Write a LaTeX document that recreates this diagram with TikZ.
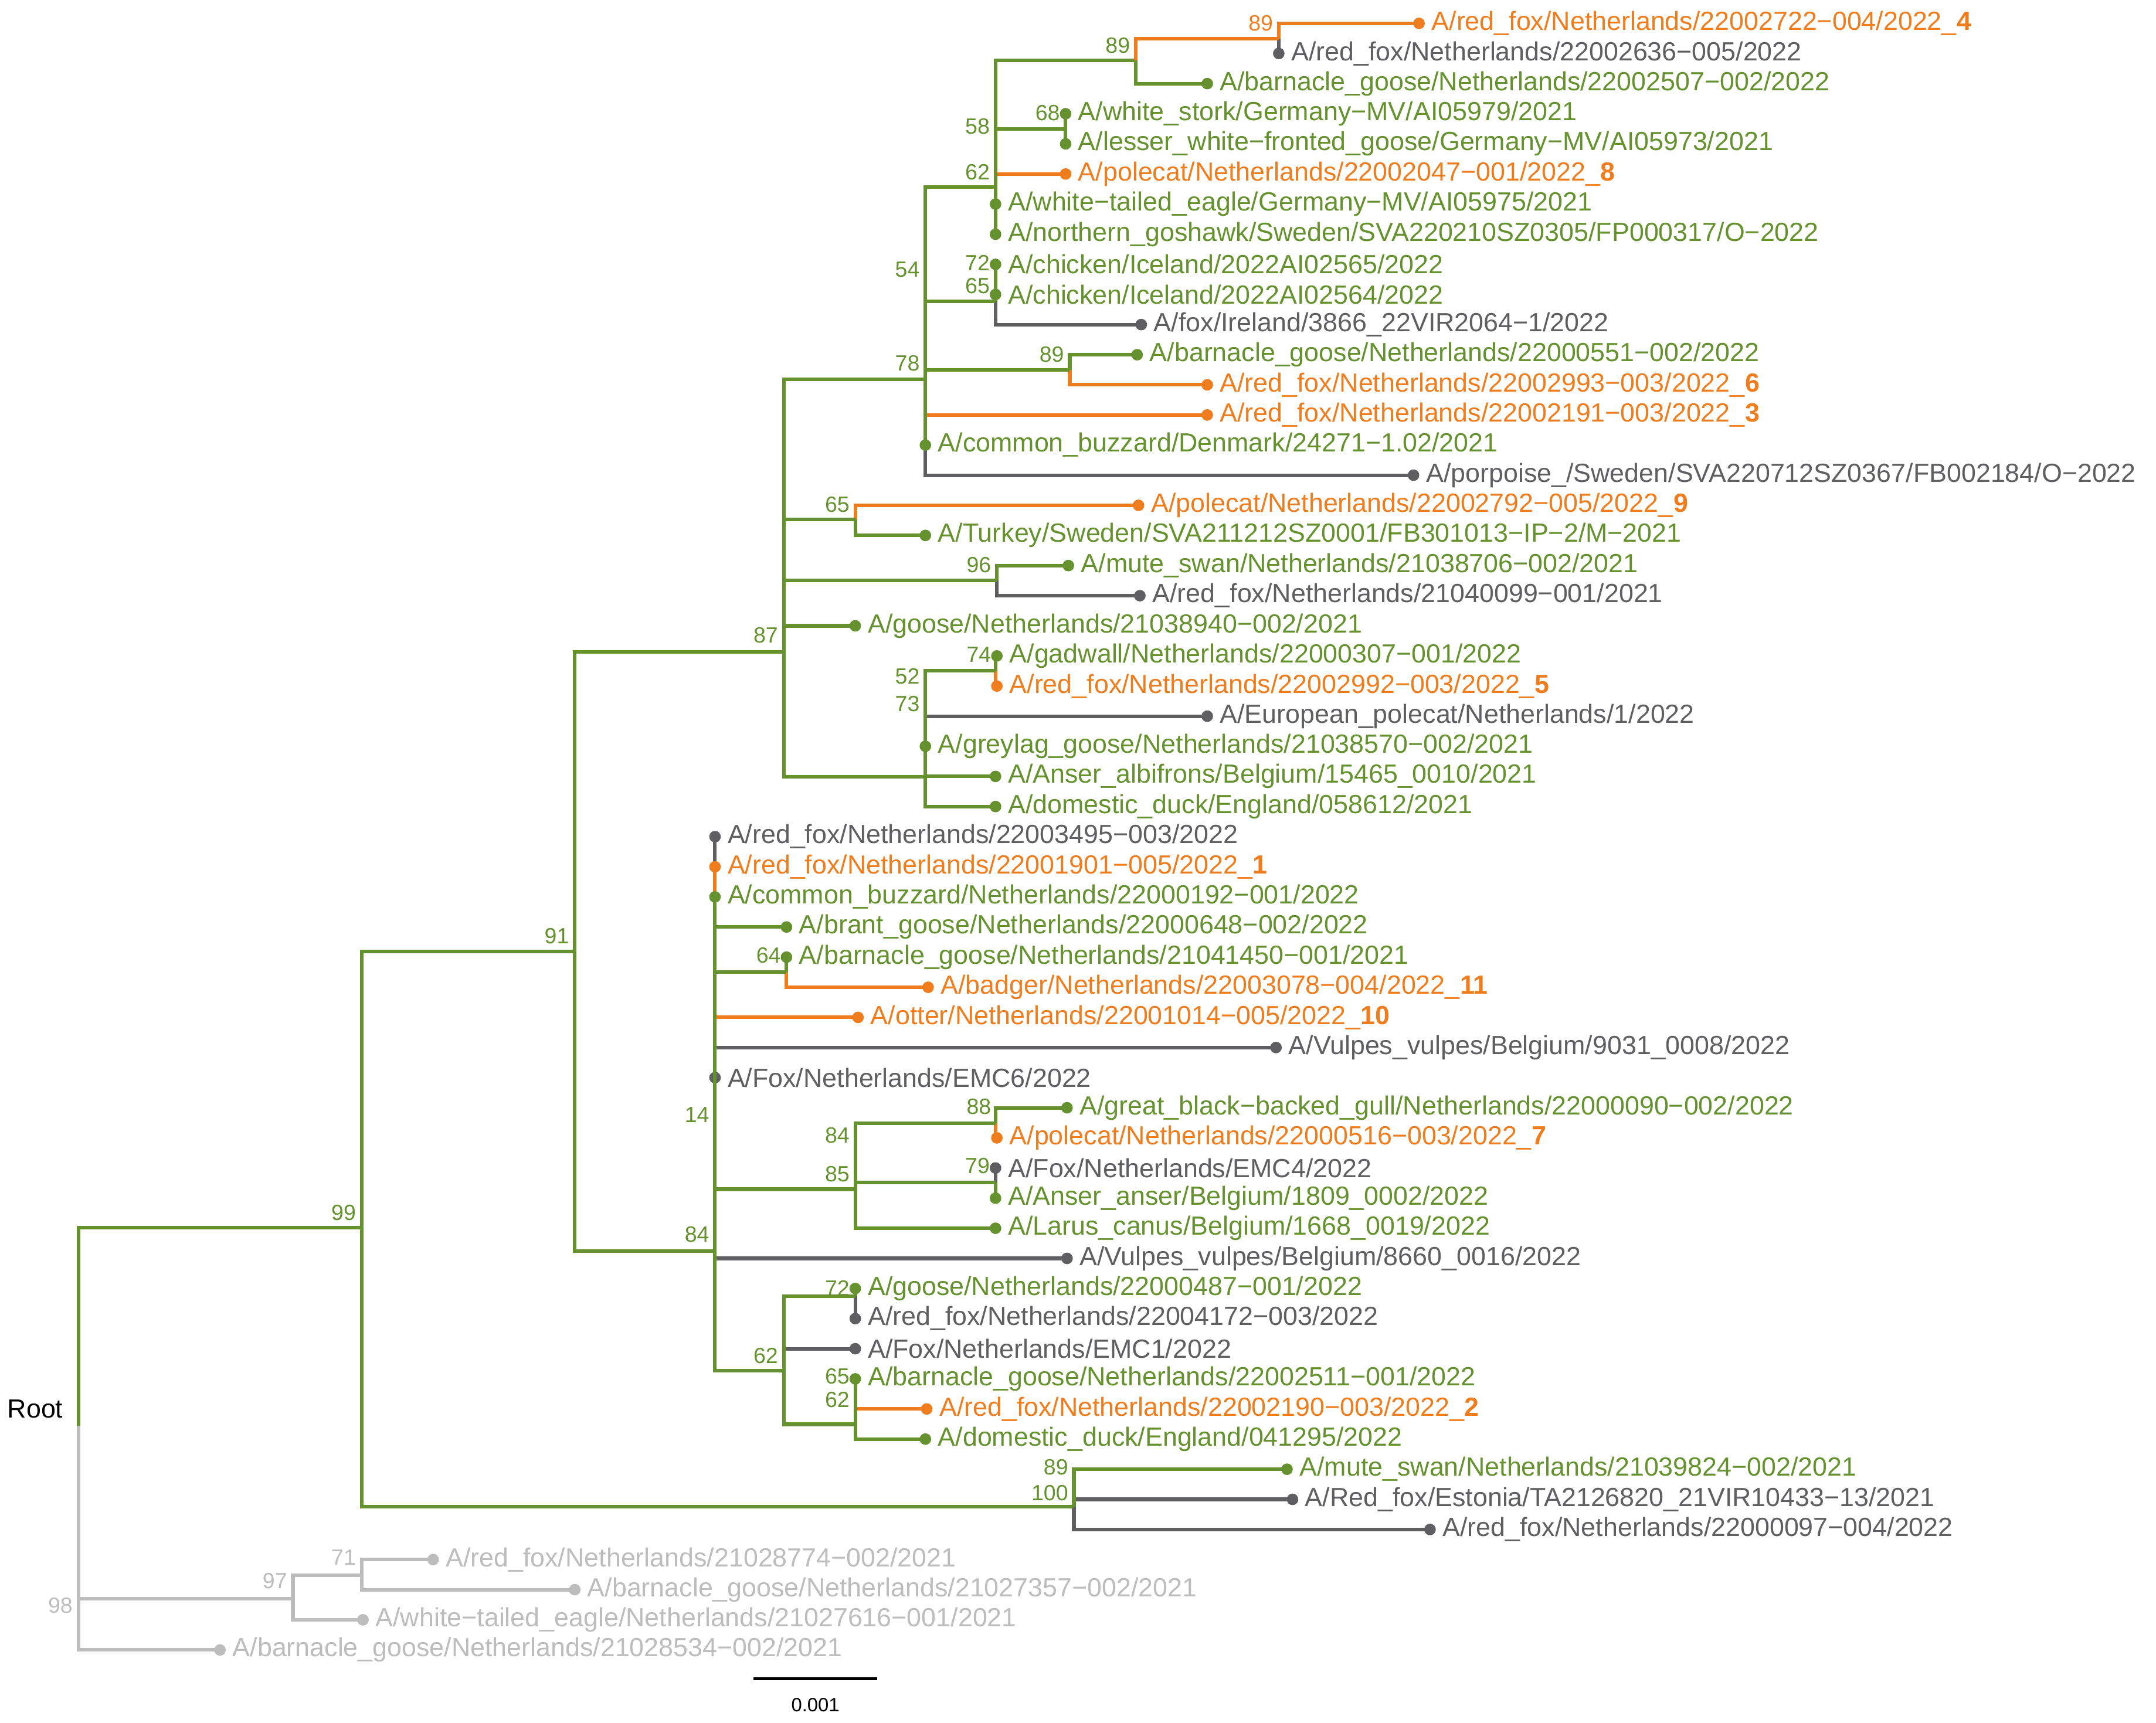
\documentclass[tikz,border=0pt]{standalone}
\usepackage{fontspec}
\setmainfont{Liberation Sans}
\definecolor{gn}{HTML}{65922E}
\definecolor{og}{HTML}{EF7D1E}
\definecolor{gy}{HTML}{5F5F62}
\definecolor{lg}{HTML}{BDBDBD}
\tikzset{br/.style={line width=2.6pt},
 tl/.style={font=\fontsize{19.1}{21}\selectfont,inner sep=0pt},
 bl/.style={font=\fontsize{16}{18}\selectfont,inner sep=0pt,anchor=east}}
\newcommand\tipp[6]{%
 \pgfmathsetmacro\ty{17+21.91*(#4-1)}%
 \draw[br,#1] (#2,#3) |- (#5,\ty);
 \fill[#1] (#5,\ty) circle (4.2pt);
 \node[tl,text=#1,anchor=west] (t#4) at (#5+9,\ty) {#6};}
\newcommand\ib[5]{\draw[br,#1] (#2,#3) |- (#4,#5);}
\newcommand\bs[4]{\node[bl,text=#1] at (#2-4,#3) {#4};}
\begin{document}
\begin{tikzpicture}[x=1pt,y=-1pt]
\useasboundingbox[fill=white] (0,0) rectangle (1568,1253);
% ---------- non-green tips first (farthest from join first)
\tipp{og}{930}{28}{1}{1032}{A/red\_fox/Netherlands/22002722−004/2022\_\textbf{4}}
\tipp{gy}{930}{28}{2}{930}{A/red\_fox/Netherlands/22002636−005/2022}
\tipp{og}{724}{136}{6}{775}{A/polecat/Netherlands/22002047−001/2022\_\textbf{8}}
\tipp{gy}{724}{219}{11}{830}{A/fox/Ireland/3866\_22VIR2064−1/2022}
\tipp{gy}{673}{276}{16}{1028}{A/porpoise\_/Sweden/SVA220712SZ0367/FB002184/O−2022}
\tipp{og}{673}{276}{14}{878}{A/red\_fox/Netherlands/22002191−003/2022\_\textbf{3}}
\tipp{og}{778}{269}{13}{878}{A/red\_fox/Netherlands/22002993−003/2022\_\textbf{6}}
\tipp{og}{622}{378}{17}{828}{A/polecat/Netherlands/22002792−005/2022\_\textbf{9}}
\tipp{gy}{725}{422}{20}{829}{A/red\_fox/Netherlands/21040099−001/2021}
\tipp{og}{724}{488}{23}{725}{A/red\_fox/Netherlands/22002992−003/2022\_\textbf{5}}
\tipp{gy}{673}{565}{24}{878}{A/European\_polecat/Netherlands/1/2022}
\tipp{gy}{520}{910}{28}{520}{A/red\_fox/Netherlands/22003495−003/2022}
\tipp{og}{520}{910}{29}{520}{A/red\_fox/Netherlands/22001901−005/2022\_\textbf{1}}
\tipp{og}{520}{910}{34}{624}{A/otter/Netherlands/22001014−005/2022\_\textbf{10}}
\tipp{gy}{520}{910}{35}{928}{A/Vulpes\_vulpes/Belgium/9031\_0008/2022}
\tipp{gy}{520}{910}{36}{520}{A/Fox/Netherlands/EMC6/2022}
\tipp{gy}{520}{910}{42}{776}{A/Vulpes\_vulpes/Belgium/8660\_0016/2022}
\tipp{og}{572}{707}{33}{675}{A/badger/Netherlands/22003078−004/2022\_\textbf{11}}
\tipp{og}{724}{817}{38}{725}{A/polecat/Netherlands/22000516−003/2022\_\textbf{7}}
\tipp{gy}{724}{860}{39}{724}{A/Fox/Netherlands/EMC4/2022}
\tipp{gy}{622}{943}{44}{622}{A/red\_fox/Netherlands/22004172−003/2022}
\tipp{gy}{570}{997}{45}{622}{A/Fox/Netherlands/EMC1/2022}
\tipp{og}{622}{1036}{47}{674}{A/red\_fox/Netherlands/22002190−003/2022\_\textbf{2}}
\tipp{gy}{781}{1091}{50}{940}{A/Red\_fox/Estonia/TA2126820\_21VIR10433−13/2021}
\tipp{gy}{781}{1096}{51}{1040}{A/red\_fox/Netherlands/22000097−004/2022}
% ---------- root and light clade
\node[tl,anchor=east] (root) at (46,1025) {Root};
\ib{lg}{57}{1037}{213}{1163}
\tipp{lg}{57}{1037}{55}{160}{A/barnacle\_goose/Netherlands/21028534−002/2021}
\ib{lg}{213}{1163}{263}{1146}
\tipp{lg}{263}{1146}{52}{315}{A/red\_fox/Netherlands/21028774−002/2021}
\tipp{lg}{263}{1146}{53}{418}{A/barnacle\_goose/Netherlands/21027357−002/2021}
\tipp{lg}{213}{1163}{54}{264}{A/white−tailed\_eagle/Netherlands/21027616−001/2021}
% ---------- green
\ib{gn}{57}{1037}{263}{893}
\ib{gn}{263}{893}{418}{692}
\ib{gn}{263}{893}{781}{1096}
\ib{gn}{781}{1096}{781}{1069}
\tipp{gn}{781}{1069}{49}{936}{A/mute\_swan/Netherlands/21039824−002/2021}
\ib{gn}{418}{692}{570}{474}
\ib{gn}{418}{692}{520}{910}
\ib{gn}{570}{474}{673}{276}
\ib{gn}{570}{474}{622}{378}
\ib{gn}{570}{474}{725}{422}
\tipp{gn}{570}{474}{21}{622}{A/goose/Netherlands/21038940−002/2021}
\ib{gn}{570}{474}{673}{565}
\ib{gn}{673}{276}{673}{178}
\ib{gn}{673}{178}{724}{136}
\ib{gn}{673}{178}{724}{219}
\ib{gn}{673}{276}{778}{269}
\tipp{gn}{673}{276}{15}{673}{A/common\_buzzard/Denmark/24271−1.02/2021}
\ib{gn}{724}{136}{826}{44}
\ib{gn}{724}{136}{775}{94}
\tipp{gn}{724}{136}{7}{724}{A/white−tailed\_eagle/Germany−MV/AI05975/2021}
\tipp{gn}{724}{136}{8}{724}{A/northern\_goshawk/Sweden/SVA220210SZ0305/FP000317/O−2022}
\ib{og}{826}{44}{930}{28}
\tipp{gn}{826}{44}{3}{878}{A/barnacle\_goose/Netherlands/22002507−002/2022}
\tipp{gn}{775}{94}{4}{775}{A/white\_stork/Germany−MV/AI05979/2021}
\tipp{gn}{775}{94}{5}{775}{A/lesser\_white−fronted\_goose/Germany−MV/AI05973/2021}
\tipp{gn}{724}{219}{9}{724}{A/chicken/Iceland/2022AI02565/2022}
\tipp{gn}{724}{219}{10}{724}{A/chicken/Iceland/2022AI02564/2022}
\tipp{gn}{778}{269}{12}{827}{A/barnacle\_goose/Netherlands/22000551−002/2022}
\tipp{gn}{622}{378}{18}{673}{A/Turkey/Sweden/SVA211212SZ0001/FB301013−IP−2/M−2021}
\tipp{gn}{725}{422}{19}{777}{A/mute\_swan/Netherlands/21038706−002/2021}
\ib{gn}{673}{565}{724}{488}
\tipp{gn}{724}{488}{22}{725}{A/gadwall/Netherlands/22000307−001/2022}
\tipp{gn}{673}{565}{25}{673}{A/greylag\_goose/Netherlands/21038570−002/2021}
\tipp{gn}{673}{565}{26}{724}{A/Anser\_albifrons/Belgium/15465\_0010/2021}
\tipp{gn}{673}{565}{27}{724}{A/domestic\_duck/England/058612/2021}
\tipp{gn}{520}{910}{30}{520}{A/common\_buzzard/Netherlands/22000192−001/2022}
\tipp{gn}{520}{910}{31}{572}{A/brant\_goose/Netherlands/22000648−002/2022}
\ib{gn}{520}{910}{572}{707}
\tipp{gn}{572}{707}{32}{572}{A/barnacle\_goose/Netherlands/21041450−001/2021}
\ib{gn}{520}{910}{622}{865}
\ib{gn}{520}{910}{570}{997}
\ib{gn}{622}{865}{724}{817}
\ib{gn}{622}{865}{724}{860}
\tipp{gn}{724}{817}{37}{776}{A/great\_black−backed\_gull/Netherlands/22000090−002/2022}
\tipp{gn}{724}{860}{40}{724}{A/Anser\_anser/Belgium/1809\_0002/2022}
\tipp{gn}{622}{865}{41}{724}{A/Larus\_canus/Belgium/1668\_0019/2022}
\ib{gn}{570}{997}{622}{943}
\tipp{gn}{622}{943}{43}{622}{A/goose/Netherlands/22000487−001/2022}
\ib{gn}{570}{997}{622}{1036}
\tipp{gn}{622}{1036}{46}{622}{A/barnacle\_goose/Netherlands/22002511−001/2022}
\tipp{gn}{622}{1036}{48}{673}{A/domestic\_duck/England/041295/2022}
% bootstrap
\bs{og}{930}{17}{89}
\bs{gn}{826}{33}{89}
\bs{gn}{775}{82}{68}
\bs{gn}{724}{92}{58}
\bs{gn}{724}{125}{62}
\bs{gn}{724}{191}{72}
\bs{gn}{724}{208}{65}
\bs{gn}{673}{196}{54}
\bs{gn}{778}{258}{89}
\bs{gn}{673}{264}{78}
\bs{gn}{622}{367}{65}
\bs{gn}{725}{411}{96}
\bs{gn}{570}{462}{87}
\bs{gn}{725}{476}{74}
\bs{gn}{673}{492}{52}
\bs{gn}{673}{512}{73}
\bs{gn}{418}{681}{91}
\bs{gn}{572}{695}{64}
\bs{gn}{520}{811}{14}
\bs{gn}{725}{805}{88}
\bs{gn}{622}{826}{84}
\bs{gn}{724}{848}{79}
\bs{gn}{622}{854}{85}
\bs{gn}{520}{898}{84}
\bs{gn}{263}{882}{99}
\bs{gn}{622}{937}{72}
\bs{gn}{570}{986}{62}
\bs{gn}{622}{1001}{65}
\bs{gn}{622}{1018}{62}
\bs{gn}{781}{1067}{89}
\bs{gn}{781}{1086}{100}
\bs{lg}{263}{1133}{71}
\bs{lg}{213}{1150}{97}
\bs{lg}{57}{1168}{98}
% scale bar
\coordinate (s1) at (548,1221); \coordinate (s2) at (638,1221);
\draw[line width=2.2pt,black] (s1) -- (s2);
\node[font=\fontsize{14}{16}\selectfont,inner sep=0pt] (sl) at (593,1240) {0.001};
\end{tikzpicture}
\end{document}
